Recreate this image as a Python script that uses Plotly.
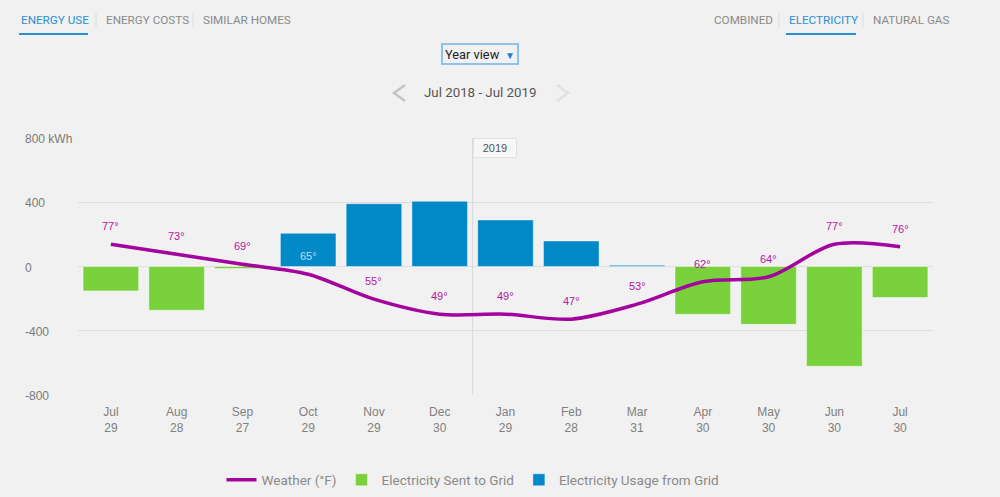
import plotly.graph_objects as go

# ---------------- data ----------------
months = ["Jul<br>29", "Aug<br>28", "Sep<br>27", "Oct<br>29", "Nov<br>29", "Dec<br>30",
          "Jan<br>29", "Feb<br>28", "Mar<br>31", "Apr<br>30", "May<br>30", "Jun<br>30", "Jul<br>30"]
sent_to_grid = [-152, -272, -12, None, None, None, None, None, None, -298, -360, -621, -193]
usage_from_grid = [None, None, None, 207, 391, 406, 290, 159, 8, None, None, None, None]
weather_f = [77, 73, 69, 65, 55, 49, 49, 47, 53, 62, 64, 77, 76]
y_ticks = [800, 400, 0, -400, -800]
y_tick_text = ["800 kWh", "400", "0", "-400", "-800"]
year_marker = "2019"
year_marker_pos = 5.5

# ---------------- styles ----------------
BG = "#f1f1f1"
GREEN = "#79d13b"
BLUE = "#0088c7"
PURPLE = "#a3049d"
LABEL_PURPLE = "#b2189f"
GRID = "#dedede"
TAB_BLUE = "#2b8fd5"
TAB_GRAY = "#8a8a8a"
UI_FONT = "Roboto, sans-serif"
CHART_FONT = "Liberation Sans, Arial, sans-serif"

W, H = 1000, 497
L, R, T, B = 78, 933, 138, 395


def px(x):
    return (x - L) / (R - L)


def py(y):
    return (B - y) / (B - T)


fig = go.Figure()

fig.add_trace(go.Bar(
    x=months, y=sent_to_grid, name="Electricity Sent to Grid",
    marker=dict(color=GREEN, line=dict(color="rgba(255,255,255,0.45)", width=1)),
    legendrank=2, hoverinfo="skip"))
fig.add_trace(go.Bar(
    x=months, y=usage_from_grid, name="Electricity Usage from Grid",
    marker=dict(color=BLUE, line=dict(color="rgba(255,255,255,0.45)", width=1)),
    legendrank=3, hoverinfo="skip"))
fig.add_trace(go.Scatter(
    x=months, y=weather_f, name="Weather (°F)", yaxis="y2", mode="lines",
    line=dict(color=PURPLE, width=3.5, shape="spline", smoothing=0.9),
    legendrank=1, hoverinfo="skip"))

annotations = []
# temperature labels
for i, (m, t) in enumerate(zip(months, weather_f)):
    on_bar = i == 3
    annotations.append(dict(
        x=m, y=t, xref="x", yref="y2", text=f"{t}°", showarrow=False,
        yshift=18, font=dict(size=11, color="#c3dbef" if on_bar else LABEL_PURPLE,
                              family=CHART_FONT)))

# y tick labels (left aligned)
for v, txt in zip(y_ticks, y_tick_text):
    annotations.append(dict(
        x=px(23), y=v, xref="paper", yref="y", text=txt, showarrow=False,
        xanchor="left", yanchor="middle", yshift=-1,
        font=dict(size=12, color="#7a7a7a", family=CHART_FONT)))

# year marker box
annotations.append(dict(
    x=year_marker_pos, y=1, xref="x", yref="paper", text=year_marker, showarrow=False,
    xanchor="left", yanchor="top", bgcolor="#f7f7f7", bordercolor="#e2e2e2", borderwidth=1,
    borderpad=3, width=36, align="center", xshift=0,
    font=dict(size=11, color="#555555", family=CHART_FONT)))

# top tabs
tabs = [("ENERGY USE", 19, TAB_BLUE), ("ENERGY COSTS", 104, TAB_GRAY), ("SIMILAR HOMES", 201, TAB_GRAY),
        ("COMBINED", 712, TAB_GRAY), ("ELECTRICITY", 787, TAB_BLUE), ("NATURAL GAS", 871, TAB_GRAY)]
for txt, x0, col in tabs:
    annotations.append(dict(
        x=px(x0), y=py(20), xref="paper", yref="paper", text=txt, showarrow=False,
        xanchor="left", yanchor="middle", font=dict(size=11.7, color=col, family=UI_FONT)))

# dropdown + period
annotations.append(dict(
    x=px(443), y=py(54), xref="paper", yref="paper", text="Year view", showarrow=False,
    xanchor="left", yanchor="middle", font=dict(size=12.8, color="#222222", family=UI_FONT)))
annotations.append(dict(
    x=px(510), y=py(55), xref="paper", yref="paper", text="▼", showarrow=False,
    xanchor="center", yanchor="middle", font=dict(size=10, color="#1f7fd0", family=CHART_FONT)))
annotations.append(dict(
    x=px(480), y=py(93), xref="paper", yref="paper", text="Jul 2018 - Jul 2019", showarrow=False,
    xanchor="center", yanchor="middle", font=dict(size=13.3, color="#555555", family=UI_FONT)))

shapes = []
# vertical year divider
shapes.append(dict(type="line", xref="x", yref="paper", x0=year_marker_pos, x1=year_marker_pos,
                   y0=0, y1=1, line=dict(color="#d8d8d8", width=1), layer="below"))
# tab separators
for xs in [96, 193, 779, 863]:
    shapes.append(dict(type="line", xref="paper", yref="paper", x0=px(xs), x1=px(xs),
                       y0=py(13), y1=py(28), line=dict(color="#dddddd", width=1)))
# tab underlines
for x0, x1 in [(19, 88), (786, 856)]:
    shapes.append(dict(type="line", xref="paper", yref="paper", x0=px(x0), x1=px(x1),
                       y0=py(34), y1=py(34), line=dict(color=TAB_BLUE, width=2)))
# dropdown box
shapes.append(dict(type="rect", xref="paper", yref="paper", x0=px(442), x1=px(518),
                   y0=py(64), y1=py(44), line=dict(color="#8cc3ee", width=2),
                   fillcolor="rgba(0,0,0,0)"))
# chevrons
shapes.append(dict(type="path", xref="paper", yref="paper",
                   path=f"M {px(405)},{py(85)} L {px(394)},{py(93)} L {px(405)},{py(101)}",
                   line=dict(color="#c4c4c4", width=2.5)))
shapes.append(dict(type="path", xref="paper", yref="paper",
                   path=f"M {px(557)},{py(85)} L {px(568)},{py(93)} L {px(557)},{py(101)}",
                   line=dict(color="#e0e0e0", width=2.5)))

fig.update_layout(
    width=W, height=H,
    margin=dict(l=L, r=W - R, t=T, b=H - B, autoexpand=False),
    paper_bgcolor=BG, plot_bgcolor=BG,
    barmode="relative", bargap=0.155,
    showlegend=True,
    legend=dict(orientation="h", x=px(473), xanchor="center", y=py(480), yanchor="middle",
                font=dict(size=13.5, color="#8a8a8a", family=UI_FONT),
                itemwidth=30, bgcolor="rgba(0,0,0,0)", traceorder="normal"),
    xaxis=dict(type="category", showgrid=False, zeroline=False, showline=False, ticks="",
               tickfont=dict(size=12, color="#808080", family=CHART_FONT),
               ticklabelstandoff=8, range=[-0.5, len(months) - 0.5], fixedrange=True),
    yaxis=dict(range=[-800, 800], tickvals=y_ticks, showticklabels=False, showgrid=True,
               gridcolor=GRID, gridwidth=1, zeroline=False, showline=False, fixedrange=True),
    yaxis2=dict(range=[16.6, 119.6], overlaying="y", side="right", visible=False,
                showgrid=False, zeroline=False, fixedrange=True),
    annotations=annotations,
    shapes=shapes,
)

fig.write_html(
    "out.html",
    config={"displayModeBar": False},
    post_script="document.body.style.margin='0';document.body.style.padding='0';"
                "document.body.style.background='" + BG + "';",
)
